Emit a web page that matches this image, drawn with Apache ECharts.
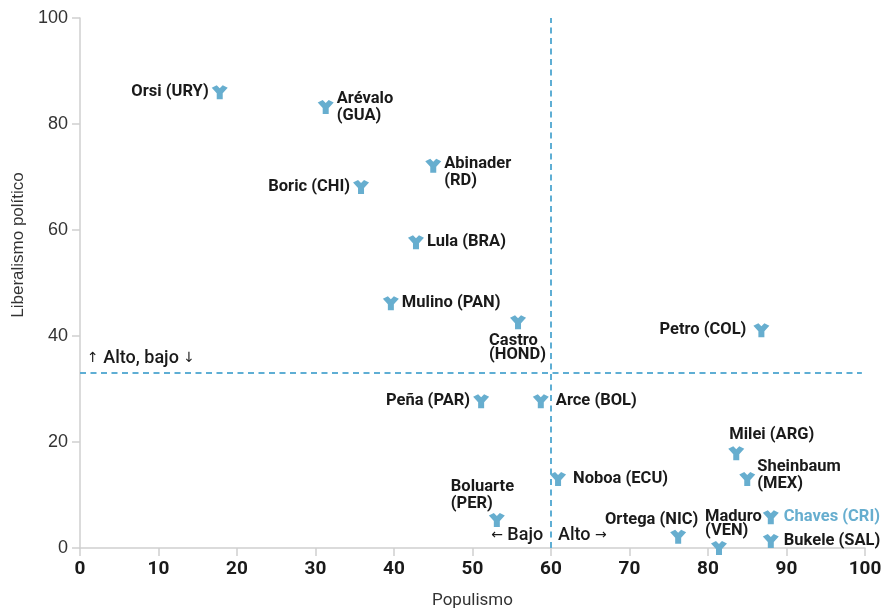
<!DOCTYPE html>
<html>
<head>
<meta charset="utf-8">
<script src="https://cdn.jsdelivr.net/npm/echarts@6/dist/echarts.min.js"></script>
<style>
  html, body { margin: 0; padding: 0; background: #fff; }
  #chart { width: 887px; height: 609px; }
</style>
</head>
<body>
<div id="chart"></div>
<script>
// datos
const leaders = [
  'Orsi (URY)', 'Arévalo\n(GUA)', 'Abinader\n(RD)', 'Boric (CHI)', 'Lula (BRA)',
  'Mulino (PAN)', 'Castro\n(HOND)', 'Petro (COL)', 'Peña (PAR)', 'Arce (BOL)',
  'Milei (ARG)', 'Sheinbaum\n(MEX)', 'Noboa (ECU)', 'Boluarte\n(PER)', 'Chaves (CRI)',
  'Ortega (NIC)', 'Maduro\n(VEN)', 'Bukele (SAL)'
]
const populismo = [17.8, 31.3, 45.0, 35.8, 42.8, 39.6, 55.8, 86.8, 51.1, 58.7, 83.6, 85.0, 60.9, 53.1, 88.0, 76.2, 81.4, 88.0]
const liberalismo = [86.0, 83.2, 72.1, 68.1, 57.7, 46.2, 42.6, 41.1, 27.7, 27.7, 17.9, 13.0, 13.0, 5.3, 5.8, 2.1, 0.0, 1.3]
const xTicks = [0, 10, 20, 30, 40, 50, 60, 70, 80, 90, 100]
const yTicks = [0, 20, 40, 60, 80, 100]
const umbralPopulismo = 60
const umbralLiberalismo = 33

// etiqueta: [posición, dx, dy, alineación, interlineado]
const labelPlace = [
  ['left', 0, 0], ['right', 0, 0], ['right', 0, 7], ['left', 0, 0], ['right', 0, 0],
  ['right', 0, 0], ['bottom', -29, 0, 'left', 14], ['left', -4, 0], ['left', 0, 0], ['right', 4, 0],
  ['top', -7, 0, 'left'], ['right', -1, -4], ['right', 4, 0], ['top', -46, 2, 'left'], ['right', 2, 0],
  ['top', 20, 2, 'right'], ['top', -14, 0, 'left', 14], ['right', 2, 0]
]
const highlight = 'Chaves (CRI)'

const blue = '#67aecf'
const ink = '#1a1a1a'
const marker = 'path://M0,2.5 L5,0 L8,3 L11,0 L16,2.5 L11,8 L11,14 L5,14 L5,8 Z'

const points = leaders.map((name, i) => {
  const p = labelPlace[i]
  const label = {
    position: p[0],
    offset: [p[1], p[2]],
    distance: p[0] === 'bottom' ? 5 : 3,
    lineHeight: p[4] || 17
  }
  if (p[3]) label.align = p[3]
  if (name === highlight) label.color = blue
  return { name, value: [populismo[i], liberalismo[i]], label }
})

const notes = [
  { value: [0.9, 35.8], label: { position: 'right', formatter: '{a|↑} Alto, bajo {a|↓}' } },
  { value: [59.0, 2.3], label: { position: 'left', formatter: '{a|←} Bajo' } },
  { value: [60.9, 2.3], label: { position: 'right', formatter: 'Alto {a|→}' } }
]

const chart = echarts.init(document.getElementById('chart'))
chart.setOption({
  animation: false,
  grid: { left: 80, right: 22, top: 18, bottom: 61, outerBoundsMode: 'none' },
  xAxis: {
    type: 'value', min: 0, max: 100, interval: 10,
    name: 'Populismo', nameLocation: 'middle', nameGap: 44,
    nameTextStyle: { fontFamily: 'Roboto', fontSize: 17, color: '#333' },
    axisLine: { show: true, lineStyle: { color: '#cfcfcf', width: 1.5 } },
    axisTick: { show: true, length: 8, lineStyle: { color: '#cfcfcf', width: 1.5 } },
    axisLabel: {
      margin: 12, fontFamily: 'Roboto', fontWeight: 'bold', fontSize: 19, color: ink,
      formatter: v => xTicks.includes(v) ? String(v) : ''
    },
    splitLine: { show: false }
  },
  yAxis: {
    type: 'value', min: 0, max: 100, interval: 20,
    name: 'Liberalismo político', nameLocation: 'middle', nameGap: 50,
    nameTextStyle: { fontFamily: 'Liberation Sans Narrow, Liberation Sans', fontSize: 17, color: '#333', padding: [0, 0, 0, 76] },
    axisLine: { show: true, lineStyle: { color: '#cfcfcf', width: 1.5 } },
    axisTick: { show: true, length: 8, lineStyle: { color: '#cfcfcf', width: 1.5 } },
    axisLabel: {
      margin: 12, fontFamily: 'Liberation Sans', fontSize: 18, color: '#333',
      formatter: v => yTicks.includes(v) ? String(v) : ''
    },
    splitLine: { show: false }
  },
  series: [
    {
      type: 'scatter',
      silent: true,
      symbolSize: 0,
      itemStyle: { opacity: 1 },
      data: notes,
      label: {
        show: true, distance: 0,
        fontFamily: 'Roboto', fontWeight: 500, fontSize: 18, color: ink,
        rich: { a: { fontSize: 14, color: ink, fontFamily: 'DejaVu Sans' } }
      },
      markLine: {
        silent: true,
        symbol: 'none',
        label: { show: false },
        lineStyle: { color: '#5eaed4', width: 2, type: [6, 4.5] },
        data: [
          { xAxis: umbralPopulismo },
          [{ coord: [0, umbralLiberalismo] }, { coord: [99.6, umbralLiberalismo] }]
        ]
      },
      z: 1
    },
    {
      type: 'scatter',
      symbol: marker,
      symbolSize: [16, 14],
      itemStyle: { color: blue, opacity: 1 },
      data: points,
      label: {
        show: true,
        formatter: '{b}',
        fontFamily: 'Roboto', fontWeight: 'bold', fontSize: 16.5, color: ink
      },
      z: 3
    }
  ]
})
</script>
</body>
</html>
